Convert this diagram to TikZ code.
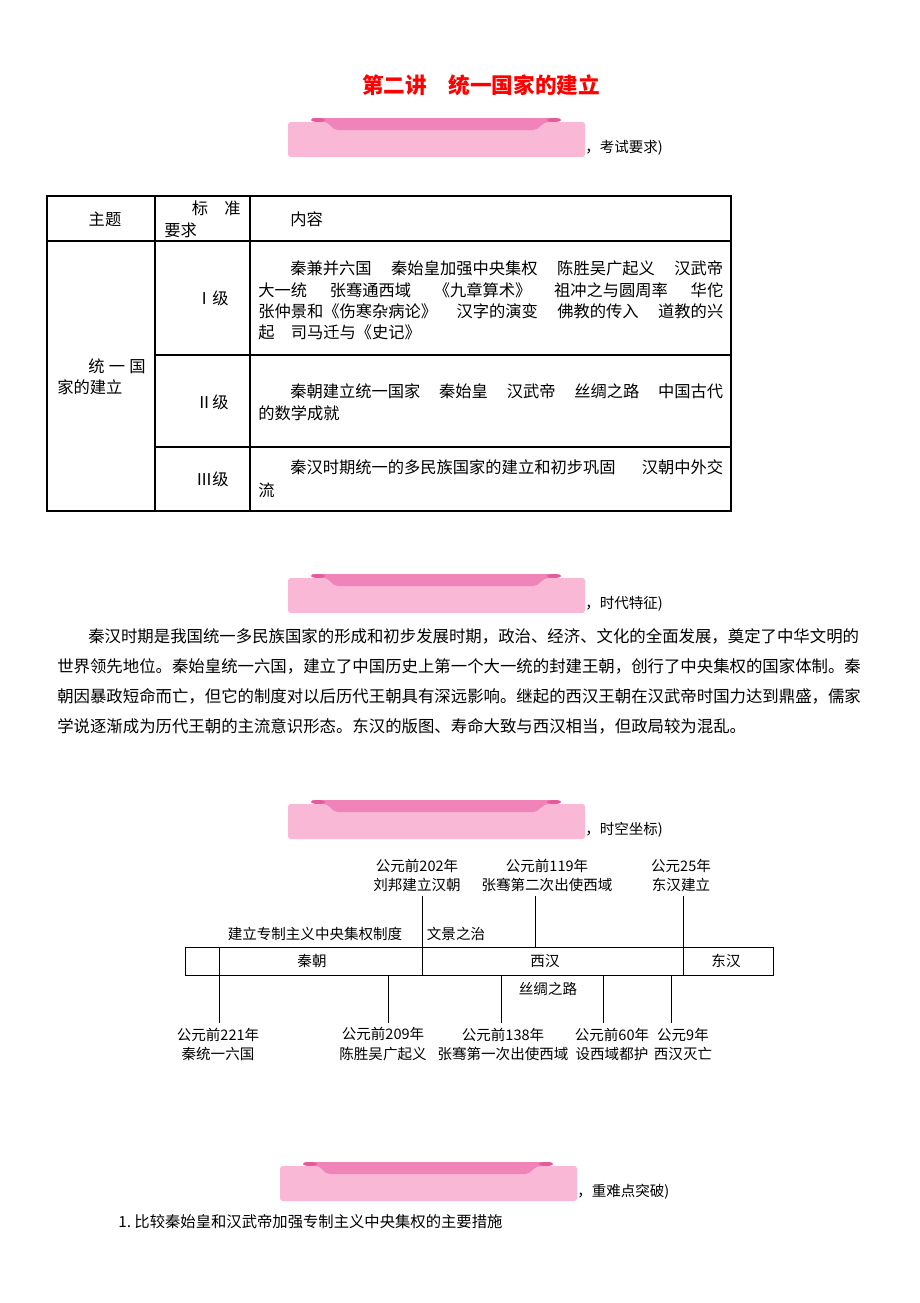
\documentclass[tikz,border=0pt]{standalone}
\usepackage{fontspec}
\setmainfont{Noto Sans CJK SC}
\usetikzlibrary{positioning}

\definecolor{barlight}{RGB}{249,184,214}
\definecolor{barmid}{RGB}{240,132,184}
\definecolor{bartip}{RGB}{230,90,156}
\definecolor{titlered}{RGB}{255,0,0}

\newcommand{\parafont}{\fontsize{12.3}{14}\selectfont}
\newcommand{\tabfont}{\fontsize{12.2}{14}\selectfont}
\newcommand{\tlfont}{\fontsize{10.9}{14.3}\selectfont}
\newcommand{\titlefont}{\fontsize{16.2}{19}\selectfont\bfseries}

% pink heading bar: x, y (top left), node name, text
\newcommand{\pinkbar}[4]{%
  \begin{scope}[shift={(#1,#2)}]
    \fill[barlight, rounded corners=2] (0,4) rectangle (297,39);
    \fill[barmid] (25,0) -- (269,0) .. controls (274,0) and (274,4) .. (262,4)
      .. controls (252,4) and (252,12) .. (245,12) -- (50,12)
      .. controls (43,12) and (43,4) .. (35,4) .. controls (23,4) and (23,0) .. (25,0) -- cycle;
    \fill[bartip] (30,2) ellipse (7 and 2);
    \fill[bartip] (266,2) ellipse (7 and 2);
    \node[bartext] (#3) at (297,30) {#4};
  \end{scope}}

\tikzset{
  tabline/.style={line width=0.8pt},
  tabtxt/.style={anchor=west, inner sep=0pt, font=\tabfont},
  paratxt/.style={anchor=west, inner sep=0pt, font=\parafont},
  bartext/.style={anchor=west, inner sep=0pt, font=\tlfont},
  evt/.style={align=center, inner sep=0pt, font=\tlfont},
  tltxt/.style={inner sep=0pt, font=\tlfont},
  tick/.style={line width=0.7pt}
}

\begin{document}
\begin{tikzpicture}[x=0.75pt, y=-0.75pt]
	\useasboundingbox (0,0) rectangle (920,1303);

	% Title
	\node[inner sep=0pt, font=\titlefont, text=titlered] (title) at (481,85) {第二讲　统一国家的建立};

	% Heading bars
	\pinkbar{288}{118}{bar1}{，考试要求)}
	\pinkbar{288}{574}{bar2}{，时代特征)}
	\pinkbar{288}{800}{bar3}{，时空坐标)}
	\pinkbar{280}{1162}{bar4}{，重难点突破)}

	% Table
	\draw[tabline] (47,196) rectangle (731,511);
	\draw[tabline] (155,196) -- (155,511);
	\draw[tabline] (250,196) -- (250,511);
	\draw[tabline] (47,241) -- (731,241);
	\draw[tabline] (155,355) -- (731,355);
	\draw[tabline] (155,447) -- (731,447);

	\node[tabtxt, anchor=center] (hzt) at (105,219) {主题};
	\node[tabtxt, anchor=east] (hbz) at (241,208) {标　准};
	\node[tabtxt] (hyq) at (164,230) {要求};
	\node[tabtxt] (hnr) at (290,219) {内容};

	\node[tabtxt] (zt1) at (88,366) {\makebox[43pt][s]{统\hfill 一\hfill 国}};
	\node[tabtxt] (zt2) at (57,387) {家的建立};

	\node[tabtxt, anchor=east] (lv1) at (229,298) {Ⅰ级};
	\node[tabtxt, anchor=east] (lv2) at (229,402) {Ⅱ级};
	\node[tabtxt, anchor=east] (lv3) at (229,479) {Ⅲ级};

	\node[tabtxt] (r1a) at (290,268) {\makebox[324.75pt][s]{秦兼并六国\hfill 秦始皇加强中央集权\hfill 陈胜吴广起义\hfill 汉武帝}};
	\node[tabtxt] (r1b) at (258,290) {\makebox[348.75pt][s]{大一统\hfill 张骞通西域\hfill 《九章算术》\hfill 祖冲之与圆周率\hfill 华佗}};
	\node[tabtxt] (r1c) at (258,311) {\makebox[348.75pt][s]{张仲景和《伤寒杂病论》\hfill 汉字的演变\hfill 佛教的传入\hfill 道教的兴}};
	\node[tabtxt] (r1d) at (258,332) {起　司马迁与《史记》};
	\node[tabtxt] (r2a) at (290,391) {\makebox[324.75pt][s]{秦朝建立统一国家\hfill 秦始皇\hfill 汉武帝\hfill 丝绸之路\hfill 中国古代}};
	\node[tabtxt] (r2b) at (258,413) {的数学成就};
	\node[tabtxt] (r3a) at (290,467) {\makebox[324.75pt][s]{秦汉时期统一的多民族国家的建立和初步巩固\hfill 汉朝中外交}};
	\node[tabtxt] (r3b) at (258,490) {流};

	% Paragraph
	\node[paratxt] (p1) at (88,636) {秦汉时期是我国统一多民族国家的形成和初步发展时期，政治、经济、文化的全面发展，奠定了中华文明的};
	\node[paratxt] (p2) at (57,666) {世界领先地位。秦始皇统一六国，建立了中国历史上第一个大一统的封建王朝，创行了中央集权的国家体制。秦};
	\node[paratxt] (p3) at (57,696) {朝因暴政短命而亡，但它的制度对以后历代王朝具有深远影响。继起的西汉王朝在汉武帝时国力达到鼎盛，儒家};
	\node[paratxt] (p4) at (57,726) {学说逐渐成为历代王朝的主流意识形态。东汉的版图、寿命大致与西汉相当，但政局较为混乱。};

	% Timeline
	\draw[tick] (185,947) rectangle (773,975);
	\draw[tick] (219,947) -- (219,975);
	\draw[tick] (422,947) -- (422,975);
	\draw[tick] (683,947) -- (683,975);

	\node[tltxt] (qin) at (312,961) {秦朝};
	\node[tltxt] (xihan) at (545,961) {西汉};
	\node[tltxt] (donghan) at (726,961) {东汉};

	\node[tltxt] (zhidu) at (315,934) {建立专制主义中央集权制度};
	\node[tltxt] (wenjing) at (456,934) {文景之治};
	\node[tltxt] (sichou) at (548,989) {丝绸之路};

	\node[evt] (e202) at (417,875) {公元前202年\\刘邦建立汉朝};
	\node[evt] (e119) at (547,875) {公元前119年\\张骞第二次出使西域};
	\node[evt] (e25) at (681,875) {公元25年\\东汉建立};

	\node[evt] (e221) at (218,1044) {公元前221年\\秦统一六国};
	\node[evt] (e209) at (383,1044) {公元前209年\\陈胜吴广起义};
	\node[evt] (e138) at (503,1044) {公元前138年\\张骞第一次出使西域};
	\node[evt] (e60) at (612,1044) {公元前60年\\设西域都护};
	\node[evt] (e9) at (683,1044) {公元9年\\西汉灭亡};

	\coordinate (q202) at (422,947);
	\coordinate (q119) at (535,947);
	\coordinate (q25) at (683,947);
	\coordinate (q221) at (219,975);
	\coordinate (q209) at (388,975);
	\coordinate (q138) at (501,975);
	\coordinate (q60) at (603,975);
	\coordinate (q9) at (671,975);

	\draw[tick, shorten >=3.5pt] (q202) -- (q202 |- e202.south);
	\draw[tick, shorten >=3.5pt] (q119) -- (q119 |- e119.south);
	\draw[tick, shorten >=3.5pt] (q25) -- (q25 |- e25.south);
	\draw[tick, shorten >=3.5pt] (q221) -- (q221 |- e221.north);
	\draw[tick, shorten >=3.5pt] (q209) -- (q209 |- e209.north);
	\draw[tick, shorten >=3.5pt] (q138) -- (q138 |- e138.north);
	\draw[tick, shorten >=3.5pt] (q60) -- (q60 |- e60.north);
	\draw[tick, shorten >=3.5pt] (q9) -- (q9 |- e9.north);

	% Question
	\node[inner sep=0pt, anchor=west, font=\fontsize{11.5}{14}\selectfont] (q1) at (118,1222) {1.~比较秦始皇和汉武帝加强专制主义中央集权的主要措施};
\end{tikzpicture}
\end{document}
